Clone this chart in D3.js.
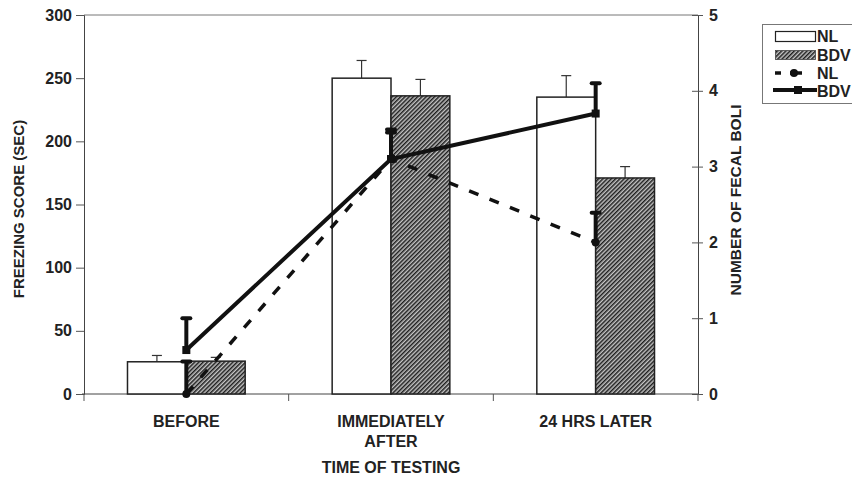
<!DOCTYPE html>
<html>
<head>
<meta charset="utf-8">
<script src="https://cdn.jsdelivr.net/npm/d3@7"></script>
<style>
  html, body { margin: 0; padding: 0; background: #fff; }
  svg { display: block; font-family: "Liberation Sans", Arial, Helvetica, sans-serif; font-weight: bold; }
</style>
</head>
<body>
<svg id="chart" width="852" height="477"></svg>
<script>
// Time points
const categories = ["BEFORE", "IMMEDIATELY AFTER", "24 HRS LATER"];
const categoryLines = [["BEFORE"], ["IMMEDIATELY", "AFTER"], ["24 HRS LATER"]];

// Freezing score (sec), bars
const freezeNL = [25.5, 250, 235];
const freezeNLErr = [5, 14, 17];
const freezeBDV = [26, 236, 171];
const freezeBDVErr = [3, 13, 9];

// Number of fecal boli, lines
const boliNL = [0, 3.1, 2.0];
const boliNLErr = [0.43, 0.35, 0.39];
const boliBDV = [0.58, 3.1, 3.7];
const boliBDVErr = [0.42, 0.39, 0.4];

const leftTicks = [0, 50, 100, 150, 200, 250, 300];
const rightTicks = [0, 1, 2, 3, 4, 5];

const FONT = "Liberation Sans, Arial, sans-serif";
const svg = d3.select("#chart");
const m = { left: 84, right: 698, top: 15, bottom: 394 };

const x = d3.scaleBand().domain(categories).range([m.left, m.right]).padding(0);
const groupFrac = 0.575;
const xs = d3.scaleBand().domain(["NL", "BDV"])
  .range([0, x.bandwidth() * groupFrac]).padding(0);
const groupOffset = (x.bandwidth() - x.bandwidth() * groupFrac) / 2;
const yL = d3.scaleLinear().domain([0, 300]).range([m.bottom, m.top]);
const yR = d3.scaleLinear().domain([0, 5]).range([m.bottom, m.top]);

// Hatch pattern for BDV bars
const defs = svg.append("defs");
const pat = defs.append("pattern")
  .attr("id", "hatch").attr("patternUnits", "userSpaceOnUse")
  .attr("width", 3).attr("height", 3)
  .attr("patternTransform", "rotate(45)");
pat.append("rect").attr("width", 3).attr("height", 3).attr("fill", "#c4c4c4");
pat.append("rect").attr("width", 1.5).attr("height", 3).attr("fill", "#1e1e1e");

// Frame: top line
svg.append("line")
  .attr("x1", m.left).attr("x2", m.right).attr("y1", m.top).attr("y2", m.top)
  .attr("stroke", "#777").attr("stroke-width", 1);

// Left axis
const axL = svg.append("g").attr("transform", `translate(${m.left},0)`)
  .call(d3.axisLeft(yL).tickValues(leftTicks).tickSize(8).tickPadding(4));
axL.select(".domain").attr("stroke", "#444");
axL.selectAll(".tick line").attr("stroke", "#555");
axL.selectAll(".tick text").attr("font-size", 16).attr("fill", "#222")
  .attr("font-family", FONT).attr("font-weight", "bold");

// Right axis (ticks cross the line)
const axR = svg.append("g").attr("transform", `translate(${m.right},0)`)
  .call(d3.axisRight(yR).tickValues(rightTicks).tickFormat(d3.format("d")).tickSize(5).tickPadding(6));
axR.select(".domain").attr("stroke", "#444");
axR.selectAll(".tick line").attr("x1", -6).attr("stroke", "#555");
axR.selectAll(".tick text").attr("font-size", 16).attr("fill", "#222")
  .attr("font-family", FONT).attr("font-weight", "bold");

// Bottom axis line with ticks at category boundaries
svg.append("line")
  .attr("x1", m.left - 2).attr("x2", m.right).attr("y1", m.bottom).attr("y2", m.bottom)
  .attr("stroke", "#444");
const bounds = categories.map(c => x(c)).concat([x(categories[2]) + x.bandwidth()]);
svg.selectAll("line.xt").data(bounds).enter().append("line")
  .attr("class", "xt")
  .attr("x1", d => d).attr("x2", d => d)
  .attr("y1", m.bottom).attr("y2", m.bottom + 7)
  .attr("stroke", "#555");

// Bars
const barData = [];
categories.forEach((c, i) => {
  barData.push({ c, s: "NL", v: freezeNL[i], e: freezeNLErr[i] });
  barData.push({ c, s: "BDV", v: freezeBDV[i], e: freezeBDVErr[i] });
});
const bx = d => x(d.c) + groupOffset + xs(d.s);
const bars = svg.append("g");
// error whiskers (behind bars)
bars.selectAll("line.be").data(barData).enter().append("line")
  .attr("x1", d => bx(d) + xs.bandwidth() / 2).attr("x2", d => bx(d) + xs.bandwidth() / 2)
  .attr("y1", d => yL(d.v)).attr("y2", d => yL(d.v + d.e))
  .attr("stroke", "#333").attr("stroke-width", 1.2);
bars.selectAll("line.bc").data(barData).enter().append("line")
  .attr("x1", d => bx(d) + xs.bandwidth() / 2 - 5).attr("x2", d => bx(d) + xs.bandwidth() / 2 + 5)
  .attr("y1", d => yL(d.v + d.e)).attr("y2", d => yL(d.v + d.e))
  .attr("stroke", "#333").attr("stroke-width", 1.2);
bars.selectAll("rect").data(barData).enter().append("rect")
  .attr("x", bx).attr("width", xs.bandwidth())
  .attr("y", d => yL(d.v)).attr("height", d => yL(0) - yL(d.v))
  .attr("fill", d => d.s === "NL" ? "#fff" : "url(#hatch)")
  .attr("stroke", "#222").attr("stroke-width", 1.5);

// Lines
const cx = c => x(c) + x.bandwidth() / 2;
const lineGen = d3.line().x(d => cx(d.c)).y(d => yR(d.v));
const nlPts = categories.map((c, i) => ({ c, v: boliNL[i], e: boliNLErr[i] }));
const bdvPts = categories.map((c, i) => ({ c, v: boliBDV[i], e: boliBDVErr[i] }));

function errBars(g, pts, w) {
  g.selectAll("line.le").data(pts).enter().append("line")
    .attr("x1", d => cx(d.c)).attr("x2", d => cx(d.c))
    .attr("y1", d => yR(d.v)).attr("y2", d => yR(d.v + d.e))
    .attr("stroke", "#111").attr("stroke-width", w);
  g.selectAll("line.lc").data(pts).enter().append("line")
    .attr("x1", d => cx(d.c) - 4).attr("x2", d => cx(d.c) + 4)
    .attr("y1", d => yR(d.v + d.e)).attr("y2", d => yR(d.v + d.e))
    .attr("stroke", "#111").attr("stroke-width", 4).attr("stroke-linecap", "round");
}

const gNL = svg.append("g");
errBars(gNL, nlPts, 4);
gNL.append("path").datum(nlPts).attr("d", lineGen)
  .attr("fill", "none").attr("stroke", "#111").attr("stroke-width", 3.5)
  .attr("stroke-dasharray", "10,12");
gNL.selectAll("circle").data(nlPts).enter().append("circle")
  .attr("cx", d => cx(d.c)).attr("cy", d => yR(d.v)).attr("r", 4).attr("fill", "#111");

const gBDV = svg.append("g");
errBars(gBDV, bdvPts, 4);
gBDV.append("path").datum(bdvPts).attr("d", lineGen)
  .attr("fill", "none").attr("stroke", "#111").attr("stroke-width", 4);
gBDV.selectAll("rect").data(bdvPts).enter().append("rect")
  .attr("x", d => cx(d.c) - 4).attr("y", d => yR(d.v) - 4)
  .attr("width", 8).attr("height", 8).attr("fill", "#111");

// Category labels
const catG = svg.append("g").attr("font-size", 16).attr("fill", "#222").attr("text-anchor", "middle");
categories.forEach((c, i) => {
  categoryLines[i].forEach((t, j) => {
    catG.append("text").attr("x", cx(c)).attr("y", 427 + j * 20).text(t);
  });
});

// Axis titles
svg.append("text").attr("x", (m.left + m.right) / 2).attr("y", 473)
  .attr("text-anchor", "middle").attr("font-size", 16).attr("fill", "#222")
  .text("TIME OF TESTING");
svg.append("text").attr("transform", "translate(24,209) rotate(-90)")
  .attr("text-anchor", "middle").attr("font-size", 15).attr("fill", "#222")
  .text("FREEZING SCORE (SEC)");
svg.append("text").attr("transform", "translate(741,200) rotate(-90)")
  .attr("text-anchor", "middle").attr("font-size", 15.5).attr("fill", "#222")
  .text("NUMBER OF FECAL BOLI");

// Legend
const lg = svg.append("g");
lg.append("rect").attr("x", 762.5).attr("y", 24.5).attr("width", 100).attr("height", 79)
  .attr("fill", "#fff").attr("stroke", "#777");
lg.append("rect").attr("x", 775.5).attr("y", 31.5).attr("width", 40).attr("height", 10)
  .attr("fill", "#fff").attr("stroke", "#222").attr("stroke-width", 1.2);
lg.append("rect").attr("x", 775.5).attr("y", 50.5).attr("width", 40).attr("height", 9)
  .attr("fill", "url(#hatch)").attr("stroke", "#444").attr("stroke-width", 0.8);
lg.append("line").attr("x1", 775).attr("x2", 781).attr("y1", 73).attr("y2", 73)
  .attr("stroke", "#111").attr("stroke-width", 3.5);
lg.append("line").attr("x1", 790).attr("x2", 802).attr("y1", 73).attr("y2", 73)
  .attr("stroke", "#111").attr("stroke-width", 3.5);
lg.append("circle").attr("cx", 794).attr("cy", 73).attr("r", 4).attr("fill", "#111");
lg.append("line").attr("x1", 773).attr("x2", 817).attr("y1", 90).attr("y2", 90)
  .attr("stroke", "#111").attr("stroke-width", 4);
lg.append("rect").attr("x", 794).attr("y", 86).attr("width", 8).attr("height", 8).attr("fill", "#111");
const lt = lg.append("g").attr("font-size", 16).attr("fill", "#222");
[["NL", 42], ["BDV", 61], ["NL", 79], ["BDV", 97]].forEach(([t, y]) => {
  lt.append("text").attr("x", 817).attr("y", y).text(t);
});
</script>
</body>
</html>
